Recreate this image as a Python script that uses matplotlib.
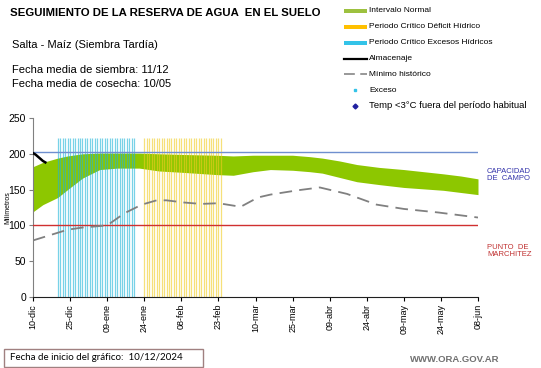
import matplotlib
matplotlib.use("Agg")
import matplotlib.pyplot as plt
from matplotlib.lines import Line2D
from matplotlib.patches import Rectangle
import numpy as np

plt.rcParams['font.family'] = ['Liberation Sans', 'DejaVu Sans']

# ---- data ----
tick_days = [0, 15, 30, 45, 60, 75, 90, 105, 120, 135, 150, 165, 180]
tick_labels = ["10-dic", "25-dic", "09-ene", "24-ene", "08-feb", "23-feb", "10-mar",
               "25-mar", "09-abr", "24-abr", "09-may", "24-may", "08-jun"]

band_days = [0, 4, 10, 14, 20, 27, 34, 43, 51, 61, 74, 81, 89, 96, 105, 112, 117,
             124, 131, 140, 150, 158, 166, 173, 180]
band_upper = [182, 188, 194, 197, 200, 201, 201, 201, 200, 199, 198, 197, 198, 198,
              198, 196, 194, 190, 185, 181, 178, 175, 172, 169, 165]
band_lower = [119, 129, 139, 150, 166, 178, 180, 180, 176, 174, 171, 170, 175, 178,
              177, 175, 173, 167, 161, 157, 153, 151, 149, 146, 143]

min_days = [0, 14, 20, 30, 37, 44, 50, 54, 61, 68, 75, 84, 91, 96, 107, 116, 127,
            139, 150, 164, 180]
min_vals = [79, 94, 97, 100, 117, 129, 135, 135, 132, 130, 131, 126, 139, 143, 149,
            153, 144, 129, 123, 118, 111]

alm_days = [0, 1, 2, 3, 4, 5]
alm_vals = [201, 199, 196, 193, 190, 188]

exceso_days = list(range(10, 42))
deficit_days = list(range(45, 77))
bar_top = 222

capacidad = 203
marchitez = 100

# ---- figure ----
W, H = 541, 368
fig = plt.figure(figsize=(W / 100, H / 100), dpi=100)

def fx(px):
    return px / W

def fy(py):
    return 1 - py / H

ax = fig.add_axes([fx(33), fy(297), fx(478) - fx(33), fy(118) - fy(297)])

ax.fill_between(band_days, band_lower, band_upper, color='#8dc700', linewidth=0, zorder=1)
ax.vlines(exceso_days, 0, bar_top, color='#1fb4d8', alpha=0.6, linewidth=0.9, zorder=2)
ax.vlines(deficit_days, 0, bar_top, color='#f0cc20', alpha=0.6, linewidth=0.9, zorder=2)
ax.axhline(capacidad, color='#6f8fcf', linewidth=1.0, zorder=3)
ax.axhline(marchitez, color='#d03030', linewidth=1.0, zorder=3)
ax.plot(min_days, min_vals, color='#808080', linewidth=1.3, dashes=(7, 4), zorder=4)
ax.plot(alm_days, alm_vals, color='black', linewidth=1.8, zorder=5)

ax.set_xlim(0, 180)
ax.set_ylim(0, 250)
ax.set_yticks([0, 50, 100, 150, 200, 250])
ax.set_xticks(tick_days)
ax.set_xticklabels(tick_labels, rotation=90, fontsize=6.5)
ax.tick_params(axis='y', labelsize=7.5, length=3, pad=2, color='#808080')
ax.tick_params(axis='x', length=3, pad=2)
for s in ['top', 'right']:
    ax.spines[s].set_visible(False)
ax.spines['left'].set_color('#808080')
ax.spines['bottom'].set_color('#202020')
ax.set_facecolor('none')

fig.text(fx(8), fy(208), "Milímetros", rotation=90, fontsize=5, ha='center', va='center')

# ---- header texts ----
fig.text(fx(10), fy(13), "SEGUIMIENTO DE LA RESERVA DE AGUA  EN EL SUELO", fontsize=8.2,
         fontweight='bold', ha='left', va='center')
fig.text(fx(12), fy(45), "Salta - Maíz (Siembra Tardía)", fontsize=8, ha='left', va='center')
fig.text(fx(12), fy(70), "Fecha media de siembra: 11/12", fontsize=8, ha='left', va='center')
fig.text(fx(12), fy(84), "Fecha media de cosecha: 10/05", fontsize=8, ha='left', va='center')

# ---- legend ----
lx0, lx1, ltx = 344, 367, 369
rows = [11, 27, 43, 59, 74, 90, 106]
labels = ["Intervalo Normal", "Periodo Crítico Déficit Hídrico",
          "Periodo Crítico Excesos Hídricos", "Almacenaje", "Mínimo histórico",
          "Exceso", "Temp <3°C fuera del período habitual"]
patch_cols = ['#9dc13f', '#ffc000', '#33c3e8']
for i in range(3):
    fig.add_artist(Rectangle((fx(lx0), fy(rows[i] + 2)), fx(lx1) - fx(lx0),
                             fy(rows[i] - 2) - fy(rows[i] + 2), color=patch_cols[i],
                             transform=fig.transFigure, linewidth=0))
fig.add_artist(Line2D([fx(lx0), fx(lx1)], [fy(rows[3])] * 2, color='black', linewidth=1.6,
                      transform=fig.transFigure))
fig.add_artist(Line2D([fx(lx0), fx(lx1)], [fy(rows[4])] * 2, color='#909090', linewidth=1.3,
                      dashes=(6, 3), transform=fig.transFigure))
fig.add_artist(Line2D([fx(355)], [fy(rows[5])], marker='s', markersize=2, color='#33c3e8',
                      linestyle='none', transform=fig.transFigure))
fig.add_artist(Line2D([fx(355)], [fy(rows[6])], marker='D', markersize=2.5, color='#2020a0',
                      linestyle='none', transform=fig.transFigure))
for r, lab in zip(rows, labels):
    fs = 6.8 if r == rows[-1] else 6.0
    fig.text(fx(ltx), fy(r), lab, fontsize=fs, ha='left', va='center')

# ---- right side annotations ----
fig.text(fx(487), fy(175), "CAPACIDAD\nDE  CAMPO", fontsize=5.5, color='#3333aa',
         ha='left', va='center', linespacing=1.1)
fig.text(fx(487), fy(251), "PUNTO  DE\nMARCHITEZ", fontsize=5.5, color='#c03030',
         ha='left', va='center', linespacing=1.1)

# ---- footer ----
fig.add_artist(Rectangle((fx(4), fy(367)), fx(203) - fx(4), fy(349) - fy(367), fill=False,
                         edgecolor='#a08080', linewidth=1.0, transform=fig.transFigure))
fig.text(fx(10), fy(358), "Fecha de inicio del gráfico:  10/12/2024", fontsize=7,
         family=['Lato', 'DejaVu Sans'], ha='left', va='center')
fig.text(fx(499), fy(360), "WWW.ORA.GOV.AR", fontsize=6.8, color='#707070', fontweight='bold',
         ha='right', va='center')

fig.savefig("out.png", dpi=100)
